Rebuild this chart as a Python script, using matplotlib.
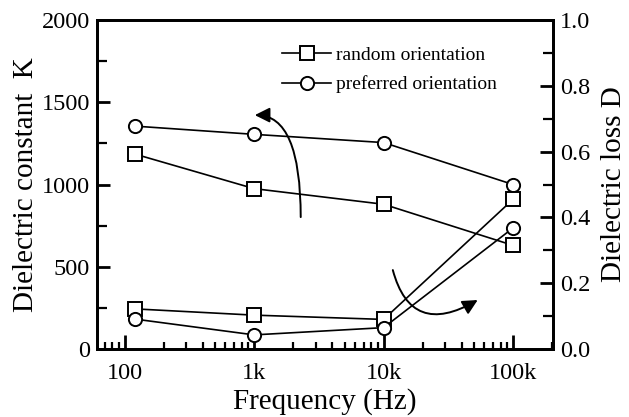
import matplotlib
matplotlib.use("Agg")
import matplotlib.pyplot as plt
from matplotlib.patches import FancyArrowPatch
from matplotlib.ticker import LogLocator, FixedLocator, MultipleLocator, NullFormatter, FormatStrFormatter

plt.rcParams['font.family'] = ['Liberation Serif', 'DejaVu Serif']

freq = [120, 1000, 10000, 100000]
K_random = [1185, 975, 880, 630]
K_preferred = [1355, 1305, 1255, 1000]
D_random = [0.122, 0.103, 0.090, 0.455]
D_preferred = [0.091, 0.043, 0.065, 0.368]
xtick_vals = [100, 1000, 10000, 100000]
xtick_labels = ['100', '1k', '10k', '100k']

fig = plt.figure(figsize=(6.29, 4.17), dpi=100)
ax = fig.add_axes([0.154, 0.163, 0.725, 0.789])
ax2 = ax.twinx()

mk = dict(color='black', lw=1.2, markersize=9.5, markerfacecolor='white',
          markeredgecolor='black', markeredgewidth=1.4)
l1, = ax.plot(freq, K_random, marker='s', label='random orientation', **mk)
l2, = ax.plot(freq, K_preferred, marker='o', label='preferred orientation', **mk)
ax2.plot(freq, D_random, marker='s', **mk)
ax2.plot(freq, D_preferred, marker='o', **mk)

ax.set_xscale('log')
ax.set_xlim(61, 2.03e5)
ax.set_ylim(0, 2000)
ax2.set_ylim(0, 1.0)

ax.xaxis.set_major_locator(FixedLocator(xtick_vals))
ax.set_xticklabels(xtick_labels)
ax.xaxis.set_minor_locator(LogLocator(base=10, subs=range(2, 10), numticks=20))
ax.xaxis.set_minor_formatter(NullFormatter())
ax.yaxis.set_major_locator(MultipleLocator(500))
ax.yaxis.set_minor_locator(MultipleLocator(250))
ax2.yaxis.set_major_locator(MultipleLocator(0.2))
ax2.yaxis.set_minor_locator(MultipleLocator(0.1))
ax2.yaxis.set_major_formatter(FormatStrFormatter('%.1f'))

for a in (ax, ax2):
    for s in a.spines.values():
        s.set_linewidth(2.0)
ax.tick_params(axis='both', which='major', direction='in', length=9.5, width=2, labelsize=17.5, pad=5)
ax.tick_params(axis='both', which='minor', direction='in', length=7, width=1.6)
ax.tick_params(axis='x', which='major', length=10, pad=10)
ax.tick_params(axis='x', which='minor', length=5)
ax2.tick_params(axis='y', which='major', direction='in', length=9.5, width=2, labelsize=17.5, pad=5)
ax2.tick_params(axis='y', which='minor', direction='in', length=7, width=1.6)

ax.set_xlabel('Frequency (Hz)', fontsize=21, labelpad=3)
ax.set_ylabel('Dielectric constant  K', fontsize=21, labelpad=2)
ax2.set_ylabel('Dielectric loss D', fontsize=21, labelpad=8)

leg = ax.legend(handles=[l1, l2], loc='upper left', bbox_to_anchor=(0.39, 0.945),
                frameon=False, fontsize=14, handlelength=2.5, handletextpad=0.25,
                labelspacing=0.62, borderaxespad=0)

# curved arrows
a1 = FancyArrowPatch((2290, 802), (1012, 1422), transform=ax.transData,
                     connectionstyle='angle3,angleA=90,angleB=0',
                     arrowstyle='-|>,head_length=9,head_width=4.5',
                     color='black', lw=1.4, mutation_scale=1, shrinkA=0, shrinkB=0)
ax.add_patch(a1)
a2 = FancyArrowPatch((11780, 0.240), (53300, 0.149), transform=ax2.transData,
                     connectionstyle='angle3,angleA=105,angleB=30',
                     arrowstyle='-|>,head_length=9,head_width=4.5',
                     color='black', lw=1.4, mutation_scale=1, shrinkA=0, shrinkB=0)
ax2.add_patch(a2)

fig.savefig('out.png', dpi=100)
